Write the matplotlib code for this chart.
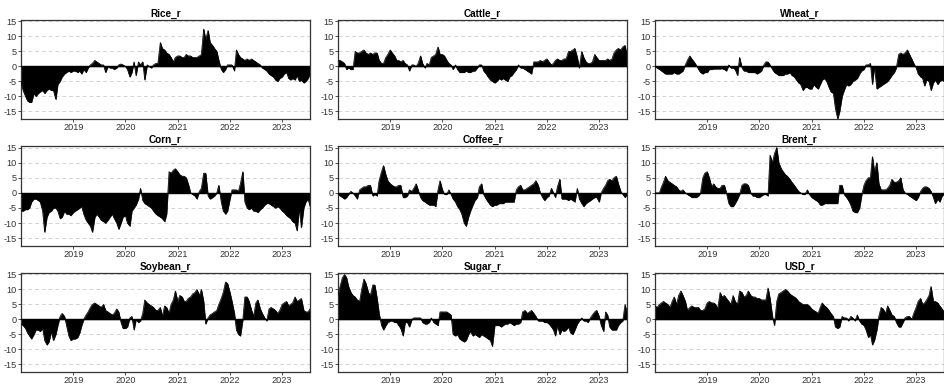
import numpy as np
import pandas as pd
import matplotlib
matplotlib.use("Agg")
import matplotlib.pyplot as plt

plt.rcParams['font.family'] = ['Liberation Sans', 'DejaVu Sans']

dates = pd.date_range('2018-01-01', '2023-07-15', freq='SMS')

rice = [-5, -8, -10, -11.5, -12, -12, -9, -10, -9, -8.5, -8, -9, -8, -7.5, -8, -8, -11, -6, -5, -3.5, -2.5, -2, -1.5, -2,
        -1.5, -1.5, -2, -1.5, -2.5, -1, -2, -0.5, 0.5, 1, 2, 1.5, 1, 0.5, 0.5, -2, 0, -0.5, -0.5, -1, -0.5, 0.5, 0.8, 0.5,
        0, -1, -3.5, -2, 1.5, -3, 1.5, 0.5, 1.5, -4.5, 0.5, 0, -0.5, 0.5, 1, 1, 8, 6, 5.5, 4.5, 4, 3, 1.5, 3,
        3.5, 3.5, 3, 3, 4, 3.5, 3.5, 3, 3, 3, 3.5, 4, 12.5, 9, 12, 8, 7, 6, 5, 2, -1, -2, -1, 0.5,
        0.5, 0.5, -1.5, 5.5, 4, 3, 2.5, 2, 2.5, 2, 2.5, 2, 1.5, 1, 0.5, -0.5, -1, -1.5, -2.5, -3, -3.5, -4.5, -5, -4,
        -3.5, -2.5, -2, -4, -4.5, -4, -4.5, -3, -5, -4.5, -5.5, -5, -4, -2.5]

cattle = [2, 2, 1.5, 1, -1, -0.5, -1, -1, 5, 4.5, 4.5, 5, 5.5, 4.5, 4, 4.5, 4, 4.5, 4.5, 2, 1, 1, 3, 4,
          5.5, 4.5, 3.5, 2, 2, 1.5, 2, 1, 0.5, -1.5, 0.5, 0.5, 0, 1, 3.5, 1, -0.5, 1, 0.5, 3, 3.5, 4, 6.5, 4,
          4, 3.5, 2, 1, 0.5, -1, 0.5, -1, -2, -2, -2, -1.5, -2, -2, -1.5, -1.5, -0.5, 0.5, 0.5, -1.5, -2.5, -3.5, -4.5, -5,
          -5.5, -5, -4, -4.5, -4, -4.5, -5, -3.5, -3, -2, -1, 0.5, -0.5, -0.5, -1, -1.5, -2, -2.5, 1.5, 1.5, 1.5, 2, 1.5, 2,
          2.5, 1.5, 0.5, 1, 2, 2.5, 2, 2, 2.5, 2.5, 5, 5, 5.5, 6, 3, -0.5, 5, 3, 1.5, 1, 1, 1.5, 4, 3,
          2, 2, 2, 2, 2.5, 2, 2.5, 4.5, 5.5, 6, 5.5, 6.5, 7, 3.5]

wheat = [0, -0.5, -1, -1.5, -2, -2.5, -2.5, -2.5, -2.5, -2, -2.5, -2.5, -2, -1.5, 0.5, 2, 3.5, 2.5, 1.5, 0.5, -1, -2, -2.5, -2,
         -2, -1, -1, -0.8, -0.8, -0.8, -0.8, -0.7, -1, -1.5, 0.5, -0.5, -0.5, -1, -3, 3, -0.5, -1.5, -1.5, -2, -2, -2, -2, -2.5,
         -2, -1.5, 0.5, 1.5, 1.5, 0.5, -1, -2, -2.5, -3, -3, -3, -2.5, -2.5, -2, -3, -3.5, -4.5, -5.5, -6, -8, -7, -7, -7.5,
         -7.5, -6, -7, -7.5, -6, -4.5, -4, -5, -7, -8.5, -9, -14, -17.5, -15, -10, -8, -6, -6.5, -6, -5, -4.5, -4, -2.5, -1.5,
         -1, 0.5, 0.5, 1, -6, 0, -7.5, -7, -6.5, -6, -5.5, -5, -4, -3, -2, -0.5, 4, 4.5, 4, 4.5, 5.5, 4, 2.5, 1,
         -0.5, -2.5, -3.5, -4, -6.5, -4.5, -5, -8, -5.5, -4.5, -6, -5, -4.5, -5]

corn = [-6, -6, -5.5, -5.5, -5, -3, -2, -2, -2.5, -3, -6, -13, -8, -6.5, -6, -5, -5, -6, -8.5, -8, -6, -7, -7, -7.5,
        -6.5, -6, -5.5, -5, -4.5, -7, -9, -10, -11, -13, -8, -7, -8, -9, -9.5, -10, -9, -8, -7, -8.5, -10, -12, -10, -8,
        -7.5, -10, -11, -6, -5, -4, -2, 1.5, -2.5, -3.5, -4, -4.5, -5, -6, -7, -7.5, -8, -8.5, -9.5, -7, 7, 6.5, 7.5, 8,
        7, 6, 5.5, 5.5, 5, 3, 0, -0.5, -1, -2, 0.5, 1.5, 6.5, 6.5, -1, -2, -1.5, -1, 0, 2.5, -3, -6, -7, -6,
        -2, 1, 1, 1, 0.5, 3, 7, -3, -5, -5.5, -5, -6, -6, -6.5, -5.5, -5, -4, -3.5, -3.5, -4, -4.5, -5, -4.5, -5,
        -6, -6.5, -7.5, -8, -8.5, -9.5, -10, -12.5, -5, -11.5, -5, -3, -2, -4.5]

coffee = [-0.5, -1, -1.5, -2, -1.5, -0.5, 0.5, 0, -1, -2, 1, 1.5, 2, 2, 2.5, 2.5, -1, -0.5, -1, 4, 7, 9, 6, 4,
          3, 2.5, 2, 2, 2.5, 2.5, -1.5, -1.5, -1, 1, 0.5, 1.5, 3, 1, -1.5, -2.5, -3, -3.5, -4, -4, -4, -4.5, 1, 4,
          1, -0.5, -0.5, 1, -0.5, -2, -3, -4.5, -5.5, -7, -10, -11, -8, -6, -4, -2.5, -1.5, 2, 3, -0.5, -2, -3, -4, -4.5,
          -4, -4, -3.5, -3.5, -3.5, -3, -3, -3, -3, -3, 1, 2, 2.5, 1, 1, 1.5, 2, 2.5, 3, 4, 2.5, 0, -1.5, -2.5,
          -1.5, -1, 1.5, 0, -1.5, 2, 4.5, -2, -2, -2, -2.5, -2, -2.5, -3, 1.5, -2, -3.5, -4.5, -3.5, -3, -2.5, -2, -1.5, -1.5,
          -3, 0, 1.5, 2.5, 4, 4.5, 4, 5, 5.5, 3, 0.5, -0.5, -1.5, -0.5]

brent = [0, 0, 0, 2, 3.5, 5.5, 4, 3.5, 3, 2.5, 2, 1, 0.5, 1, 0, -0.5, -1, -1.5, -1.5, -1.5, -1, 0, 5, 6.5,
         7, 5, 2, 3, 2, 1.5, 1.5, 2.5, 2.5, 0, -3.5, -4.5, -4.5, -3.5, -2, -0.5, 2.5, 3, 3, 2.5, 0, -1, -1, -1.5,
         -1.5, -1, -0.5, -0.5, -1, 12.5, 10, 13, 15, 10, 8, 7, 6, 5.5, 4.5, 3.5, 2.5, 1.5, 0.5, 0, -0.5, -0.5, 1, -0.5,
         -1.5, -2, -2.5, -3, -4, -4, -3.5, -3.5, -3.5, -3.5, -3.5, -3.5, -3.5, 2.5, 2.5, -0.5, -1.5, -2.5, -4, -6, -6.5, -6.5, -5, -1,
         2.5, 4, 5, 5, 12, 7, 10, 3, 1, 1, 1, 1.5, 2.5, 4.5, 3.5, 3.5, 4, 5, 1, 0, -0.5, -1, -1.5, -2,
         -2.5, -1.5, 0.5, 1.5, 2, 2, 1.5, 0.5, -1.5, -3.5, -2, -3, -1, -0.5]

soybean = [-1.5, -2, -3, -4.5, -5.5, -6.5, -5, -3.5, -3.5, -4, -3, -7, -8.5, -7.5, -4, -7, -5, -2, 1, 2, 1, -2, -5.5, -7,
           -6.5, -6.5, -6, -4.5, -2, 0, 1.5, 2.5, 4, 5, 5.5, 5, 4.5, 4, 5, 3, 2.5, 2, 1.5, 2, 3.5, 2.5, -1, -3,
           -3, -2.5, 0.5, 1, -3.5, 0, -1, -0.5, 2, 6.5, 5.5, 5, 4.5, 4, 3, 3, 4, 1, 4.5, 4, 2, 5, 6.5, 9.5,
           6, 8, 7.5, 6, 6, 7, 7.5, 8.5, 9, 10, 8, 10, 6, -1.5, 0.5, 1.5, 2, 2.5, 3, 5, 7, 9, 12.5, 12,
           9, 6, 2, -3.5, -5, -5.5, 0, 7.5, 7.5, 6, 3, 1, 5.5, 6.5, 3.5, 2, 0.5, -0.5, 3.5, 4, 3.5, 3, 2, 3,
           5, 5.5, 6, 4.5, 5, 5.5, 7.5, 6, 6.5, 7, 3, 2.5, 2.5, 3.5]

sugar = [8, 11, 14, 15, 14, 11, 9, 8, 7.5, 6.5, 6, 10, 13.5, 12, 9, 8, 11.5, 11.5, 7, 2, -2, -3.5, -2, -1,
         -0.5, -0.5, -1, -1, -2, -3, -5.5, -1, -1, -2.5, 0, 0.5, 0.5, 0.5, 0.5, -1, -1.5, -1.5, -1, 0.5, -1, -1.5, -2, 2.5,
         2.5, 2.5, 2.5, 2, 1.5, -5, -5.5, -5, -6.5, -7, -7.5, -7, -5, -4, -5.5, -5, -5.5, -6, -5, -5.5, -6, -6.5, -7, -9,
         -2, -2, -2, -2.5, -2, -1.5, -1.5, -1, -1.5, -2, -1.5, -1.5, -1, 2.5, 3, 2, 2.5, 3, 2, 1, -0.5, -0.5, -0.5, -1,
         -1, -1.5, -2.5, -3.5, -5.5, -2, -5, -3.5, -4, -3.5, -2.5, -4.5, -5, -3.5, -1.5, -0.5, 0.5, -0.5, -0.5, -1, 0.5, 1.5, 2.5, 3,
         1, -2, -4, 2.5, 1.5, -2.5, -3.5, -3.5, -3.5, -2, -1, -0.5, 5, 2]

usd = [4.5, 4, 5, 5.5, 6, 5.5, 5, 4, 6, 7.5, 5, 8, 9.5, 8, 6, 3, 4, 4.5, 4, 4, 4, 3, 3, 3.5,
       5.5, 6, 5.5, 5.5, 5, 3.5, 9, 7.5, 8, 7, 6, 5, 8, 6, 5, 9.5, 9, 7.5, 8, 9.5, 8, 7.5, 7.5, 7,
       7, 6.5, 6.5, 6.5, 10.5, 7, 1, -2, 6, 8.5, 9, 9.5, 10, 9.5, 8.5, 8, 7.5, 7, 6, 5.5, 5, 5, 5, 4.5,
       3.5, 3, 2.5, 2, 4, 5.5, 4.5, 4, 3, 2, 1, -2.5, -3, -2.5, 1, 0.5, 0.5, -0.5, 1, 0.5, -0.5, 1.5, -0.5, -1.5,
       -2, -3.5, -6, -5, -8.5, -7, -3.5, 1, 4, 3.5, 2, 4.5, 3, 1.5, 1, -1, -2.5, -2.5, -1, 0.5, 1, 1, 0, 2,
       4, 6, 7, 5, 5.5, 6.5, 8, 11, 6, 6, 5.5, 4.5, 3.5, 2.5]

titles = ['Rice_r', 'Cattle_r', 'Wheat_r', 'Corn_r', 'Coffee_r', 'Brent_r', 'Soybean_r', 'Sugar_r', 'USD_r']
series = [rice, cattle, wheat, corn, coffee, brent, soybean, sugar, usd]
year_ticks = ['2019', '2020', '2021', '2022', '2023']
y_ticks = [-15, -10, -5, 0, 5, 10, 15]

W, H = 945, 387
fig = plt.figure(figsize=(W / 100, H / 100), dpi=100)

col_left = [21, 338, 655]
col_w = 289
row_top = [20, 146, 273]
row_h = [99, 100, 99]

for k, (title, vals) in enumerate(zip(titles, series)):
    r, c = divmod(k, 3)
    x0 = col_left[c]
    y0 = row_top[r]
    ax = fig.add_axes([x0 / W, 1 - (y0 + row_h[r]) / H, col_w / W, row_h[r] / H])
    v = np.array(vals, dtype=float)
    for yt in y_ticks:
        ax.axhline(yt, color='#d4d4d4', lw=0.7, ls=(0, (4, 3)), zorder=0)
    ax.fill_between(dates, 0, v, color='black', lw=0.4, zorder=2)
    ax.plot(dates, v, color='black', lw=0.5, zorder=3)
    ax.axhline(0, color='black', lw=1.0, zorder=3)
    ax.set_xlim(dates[0], dates[-1])
    ax.set_ylim(-17.6, 15.5)
    ax.set_yticks(y_ticks)
    ax.set_yticklabels([str(t) for t in y_ticks])
    ax.set_xticks([pd.Timestamp(f'{y}-01-01') for y in year_ticks])
    ax.set_xticklabels(year_ticks)
    ax.tick_params(labelsize=6.6, length=2, width=0.6, pad=1.2, colors='#333333')
    for s in ax.spines.values():
        s.set_color('#333333')
        s.set_linewidth(0.9)
    ax.set_title(title, fontsize=7.2, fontweight='bold', pad=2.5)

fig.savefig('out.png', dpi=100)
